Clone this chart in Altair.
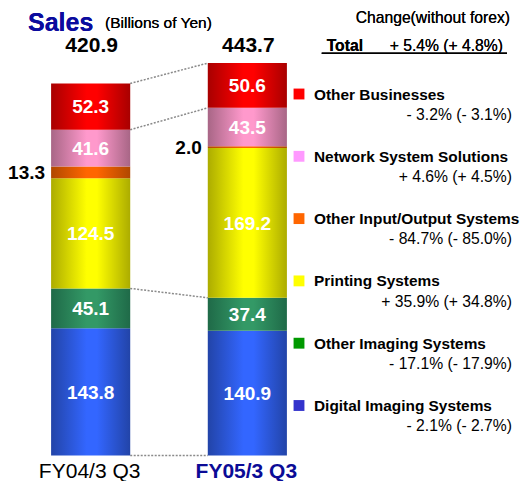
import altair as alt
import pandas as pd

# ---------------- data ----------------
periods = ["FY04/3 Q3", "FY05/3 Q3"]
segments = ["Digital Imaging Systems", "Other Imaging Systems", "Printing Systems",
            "Other Input/Output Systems", "Network System Solutions", "Other Businesses"]
values_fy04 = [143.8, 45.1, 124.5, 13.3, 41.6, 52.3]
values_fy05 = [140.9, 37.4, 169.2, 2.0, 43.5, 50.6]
totals = ["420.9", "443.7"]
changes = ["- 2.1% (- 2.7%)", "- 17.1% (- 17.9%)", "+ 35.9% (+ 34.8%)",
           "- 84.7% (- 85.0%)", "+ 4.6% (+ 4.5%)", "- 3.2% (- 3.1%)"]
total_change = "+ 5.4% (+ 4.8%)"
outside_label_segment = "Other Input/Output Systems"

# ---------------- styles ----------------
legend_colors = ["#3333cc", "#009900", "#ffff00", "#ff6600", "#ff99ff", "#ff0000"]
bar_dark = ["#2244a8", "#1f6a48", "#acac00", "#b04800", "#a86686", "#a80000"]
bar_bright = ["#3366ff", "#339966", "#ffff00", "#ff6600", "#ff99cc", "#ff0000"]
FONT = "Liberation Sans"
BW = 79.1  # bar band width in px (from scale below)

# ---------------- tables ----------------
rows = []
for p, vals in zip(periods, [values_fy04, values_fy05]):
    acc = 0.0
    for s, v in zip(segments, vals):
        rows.append({"period": p, "segment": s, "value": v, "start": acc,
                     "end": acc + v, "mid": acc + v / 2})
        acc += v
bars = pd.DataFrame(rows)

def boundary(period, seg, which):
    r = bars[(bars.period == period) & (bars.segment == seg)].iloc[0]
    return float(r[which])

conn = pd.DataFrame([
    {"from": periods[0], "to": periods[1],
     "y1": boundary(periods[0], segments[-1], "end"), "y2": boundary(periods[1], segments[-1], "end")},
    {"from": periods[0], "to": periods[1],
     "y1": boundary(periods[0], segments[-1], "start"), "y2": boundary(periods[1], segments[-1], "start")},
    {"from": periods[0], "to": periods[1],
     "y1": boundary(periods[0], segments[1], "end"), "y2": boundary(periods[1], segments[1], "end")},
    {"from": periods[0], "to": periods[1], "y1": 0.0, "y2": 0.0},
])

tot = pd.DataFrame({"period": periods, "total": totals})
leg = pd.DataFrame({"segment": segments, "change": changes})
legend_order = segments[::-1]

xs = alt.Scale(domain=periods, range=[0, 322], paddingInner=0.495, paddingOuter=0.275)
ys = alt.Scale(domain=[0, 505.9], range=[447.5, 0])
ly = alt.Scale(type="point", domain=legend_order, range=[86, 397.5], padding=0)

layers = []

# connectors
layers.append(
    alt.Chart(conn).mark_rule(color="#8a8a8a", strokeDash=[2, 1.5], strokeWidth=1.5,
                              xOffset=BW / 2, x2Offset=-BW / 2).encode(
        x=alt.X("from:N", scale=xs, axis=None),
        x2="to:N",
        y=alt.Y("y1:Q", scale=ys, axis=None),
        y2="y2:Q",
    )
)

# bars with gradient per segment
for s, d, b in zip(segments, bar_dark, bar_bright):
    grad = alt.Gradient(gradient="linear", x1=0, x2=1, y1=0, y2=0,
                        stops=[alt.GradientStop(color=d, offset=0),
                               alt.GradientStop(color=b, offset=0.45),
                               alt.GradientStop(color=b, offset=0.58),
                               alt.GradientStop(color=d, offset=1)])
    layers.append(
        alt.Chart(bars).transform_filter(alt.datum.segment == s).mark_bar(color=grad).encode(
            x=alt.X("period:N", scale=xs, axis=None),
            y=alt.Y("start:Q", scale=ys, axis=None),
            y2="end:Q",
        )
    )

# in-bar labels
layers.append(
    alt.Chart(bars).transform_filter(alt.datum.segment != outside_label_segment).mark_text(
        font=FONT, fontSize=19, fontWeight="bold", color="white", baseline="alphabetic", dy=6.8).encode(
        x=alt.X("period:N", scale=xs, axis=None),
        y=alt.Y("mid:Q", scale=ys, axis=None),
        text=alt.Text("value:Q", format=".1f"),
    )
)
# outside labels for the thin segment
layers.append(
    alt.Chart(bars).transform_filter(alt.datum.segment == outside_label_segment).mark_text(
        font=FONT, fontSize=19, fontWeight="bold", color="black", align="right",
        baseline="alphabetic", dx=-6, dy=6.8).encode(
        x=alt.X("period:N", scale=xs, axis=None, bandPosition=0),
        y=alt.Y("mid:Q", scale=ys, axis=None),
        text=alt.Text("value:Q", format=".1f"),
    )
)
# totals
layers.append(
    alt.Chart(tot).mark_text(font=FONT, fontSize=21, fontWeight="bold", color="black",
                             baseline="alphabetic", dx=1).encode(
        x=alt.X("period:N", scale=xs, axis=None),
        y=alt.value(44),
        text="total:N",
    )
)
# category labels
layers.append(
    alt.Chart(tot).transform_filter(alt.datum.period == periods[0]).mark_text(
        font=FONT, fontSize=21, color="black", baseline="alphabetic", dx=-1).encode(
        x=alt.X("period:N", scale=xs, axis=None), y=alt.value(469.5), text="period:N")
)
layers.append(
    alt.Chart(tot).transform_filter(alt.datum.period == periods[1]).mark_text(
        font=FONT, fontSize=21, fontWeight="bold", color="#0b0b96", baseline="alphabetic", dx=-1).encode(
        x=alt.X("period:N", scale=xs, axis=None), y=alt.value(469.5), text="period:N")
)

# legend
layers.append(
    alt.Chart(leg).mark_square(size=118, opacity=1).encode(
        x=alt.value(291),
        y=alt.Y("segment:N", scale=ly, axis=None),
        color=alt.Color("segment:N", scale=alt.Scale(domain=segments, range=legend_colors), legend=None),
    )
)
layers.append(
    alt.Chart(leg).mark_text(font=FONT, fontSize=15.4, fontWeight="bold", color="black",
                             align="left", baseline="alphabetic", dy=5.5).encode(
        x=alt.value(306), y=alt.Y("segment:N", scale=ly, axis=None), text="segment:N")
)
layers.append(
    alt.Chart(leg).mark_text(font=FONT, fontSize=15.7, color="black",
                             align="right", baseline="alphabetic", dy=25.6).encode(
        x=alt.value(504), y=alt.Y("segment:N", scale=ly, axis=None), text="change:N")
)

# header / titles
layers.append(alt.Chart(tot).mark_text(text="Sales", font=FONT, fontSize=25, fontWeight="bold",
                                       color="#0b0b9e", align="left", baseline="alphabetic").encode(
    x=alt.value(20), y=alt.value(22.5)))
layers.append(alt.Chart(tot).mark_text(text="(Billions of Yen)", font=FONT, fontSize=15.5,
                                       color="black", align="left", baseline="alphabetic").encode(
    x=alt.value(97), y=alt.value(20)))
layers.append(alt.Chart(tot).mark_text(text="Change(without forex)", font=FONT, fontSize=15.7,
                                       color="black", align="right", baseline="alphabetic").encode(
    x=alt.value(502), y=alt.value(14.5)))
layers.append(alt.Chart(tot).mark_text(text="Total", font=FONT, fontSize=15.7, fontWeight="bold",
                                       color="black", align="left", baseline="alphabetic").encode(
    x=alt.value(318.7), y=alt.value(42.7)))
layers.append(alt.Chart(tot).mark_text(text=total_change, font=FONT, fontSize=15.7,
                                       color="black", align="right", baseline="alphabetic").encode(
    x=alt.value(495), y=alt.value(42.7)))
layers.append(alt.Chart(tot).mark_rule(color="black", strokeWidth=1.5).encode(
    x=alt.value(313.7), x2=alt.value(499), y=alt.value(45.3)))

chart = alt.layer(*layers).resolve_scale(y="independent", color="independent").properties(
    width=512, height=473, padding=0,
    autosize=alt.AutoSizeParams(type="none"),
).configure_view(stroke=None)

chart.save("out.html", embed_options={"renderer": "svg", "actions": False})
